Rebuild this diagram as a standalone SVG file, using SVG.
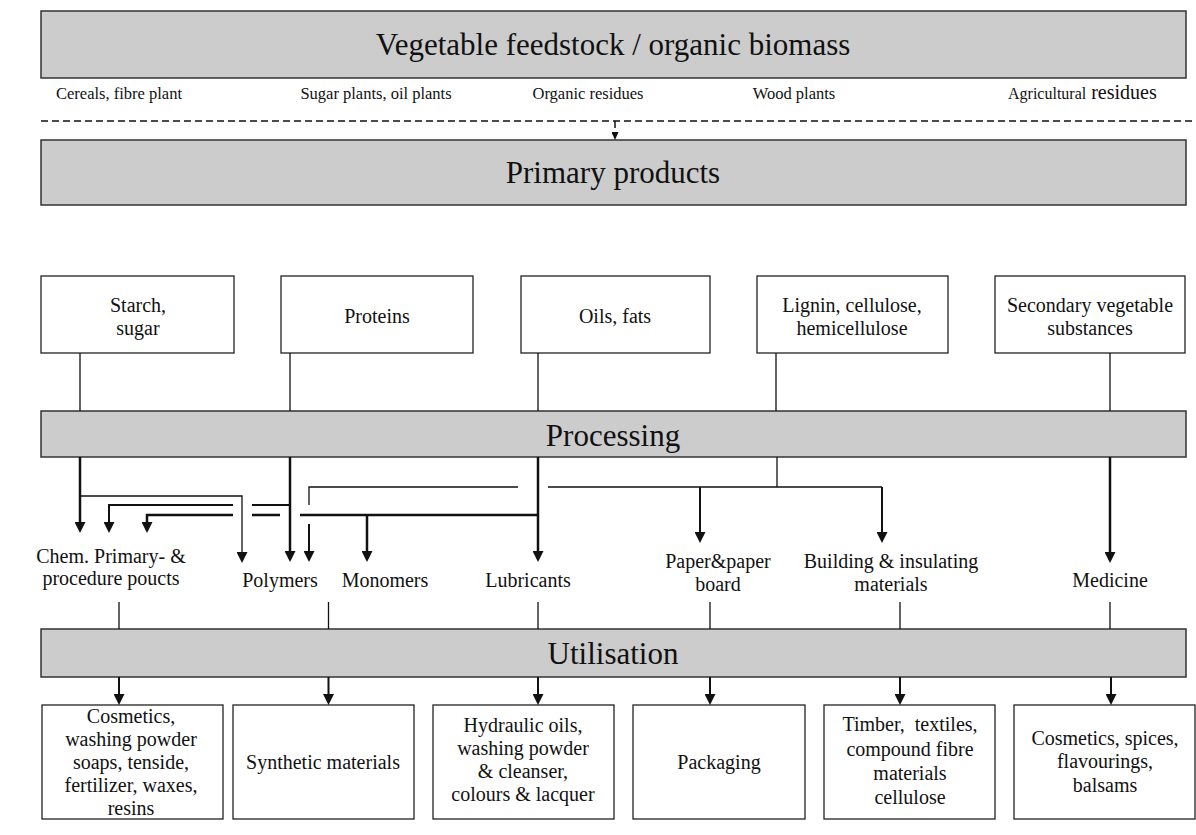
<svg xmlns="http://www.w3.org/2000/svg" width="1196" height="835" viewBox="0 0 1196 835">
  <defs>
    <style>
      .band { fill: #cccccc; stroke: #333333; stroke-width: 1.5; }
      .box { fill: #ffffff; stroke: #222222; stroke-width: 1.3; }
      text { font-family: "Liberation Serif", "Times New Roman", serif; fill: #111111; }
      .t-band { font-size: 31px; text-anchor: middle; }
      .t-box { font-size: 20px; text-anchor: middle; }
      .t-sub { font-size: 16.5px; text-anchor: middle; }
      .pre { white-space: pre; }
      .thin { fill: none; stroke: #111111; stroke-width: 1.3; }
      .mid { fill: none; stroke: #111111; stroke-width: 2; }
      .thick { fill: none; stroke: #111111; stroke-width: 2.5; }
      .dash { fill: none; stroke: #111111; stroke-width: 1.5; stroke-dasharray: 7 4; }
    </style>
    <marker id="arrow" markerUnits="userSpaceOnUse" viewBox="0 0 11 11" markerWidth="11" markerHeight="11" refX="8" refY="5.5" orient="auto">
      <path d="M0,0 L11,5.5 L0,11 z" fill="#111111"/>
    </marker>
    <marker id="arrowSmall" markerUnits="userSpaceOnUse" viewBox="0 0 8 7" markerWidth="8" markerHeight="7" refX="6" refY="3.5" orient="auto">
      <path d="M0,0 L8,3.5 L0,7 z" fill="#111111"/>
    </marker>
  </defs>

  <!-- feedstock band and source labels -->
  <g id="feedstock">
    <rect class="band" x="41" y="11" width="1145" height="67"/>
    <text class="t-band" x="613" y="55">Vegetable feedstock / organic biomass</text>
  </g>
  <g id="sources">
    <text class="t-sub" x="119" y="99">Cereals, fibre plant</text>
    <text class="t-sub" x="376" y="99">Sugar plants, oil plants</text>
    <text class="t-sub" x="588" y="99">Organic residues</text>
    <text class="t-sub" x="794" y="99">Wood plants</text>
    <text x="1008" y="99"><tspan font-size="16px">Agricultural</tspan><tspan font-size="20px"> residues</tspan></text>
  </g>

  <g id="primary-products">
    <rect class="band" x="41" y="140" width="1145" height="65"/>
    <text class="t-band" x="613" y="183">Primary products</text>
  </g>

  <!-- primary product groups -->
  <g id="starch">
    <rect class="box" x="41" y="276" width="193" height="77"/>
    <text class="t-box" x="138" y="312">Starch,</text>
    <text class="t-box" x="138" y="335">sugar</text>
  </g>
  <g id="proteins">
    <rect class="box" x="281" y="276" width="192" height="77"/>
    <text class="t-box" x="377" y="323">Proteins</text>
  </g>
  <g id="oils">
    <rect class="box" x="521" y="276" width="189" height="77"/>
    <text class="t-box" x="615" y="323">Oils, fats</text>
  </g>
  <g id="lignin">
    <rect class="box" x="757" y="276" width="191" height="77"/>
    <text class="t-box" x="852" y="312">Lignin, cellulose,</text>
    <text class="t-box" x="852" y="335">hemicellulose</text>
  </g>
  <g id="secondary">
    <rect class="box" x="995" y="276" width="190" height="77"/>
    <text class="t-box" x="1090" y="312">Secondary vegetable</text>
    <text class="t-box" x="1090" y="335">substances</text>
  </g>

  <g id="processing">
    <rect class="band" x="41" y="411" width="1145" height="46"/>
    <text class="t-band" x="613" y="446">Processing</text>
  </g>

  <!-- intermediate products -->
  <g id="chem">
    <text class="t-box" x="111" y="563">Chem. Primary- &amp;</text>
    <text class="t-box" x="111" y="585">procedure poucts</text>
  </g>
  <g id="polymers">
    <text class="t-box" x="280" y="587">Polymers</text>
  </g>
  <g id="monomers">
    <text class="t-box" x="385" y="587">Monomers</text>
  </g>
  <g id="lubricants">
    <text class="t-box" x="528" y="587">Lubricants</text>
  </g>
  <g id="paper">
    <text class="t-box" x="718" y="568">Paper&amp;paper</text>
    <text class="t-box" x="718" y="591">board</text>
  </g>
  <g id="building">
    <text class="t-box" x="891" y="568">Building &amp; insulating</text>
    <text class="t-box" x="891" y="591">materials</text>
  </g>
  <g id="medicine">
    <text class="t-box" x="1110" y="587">Medicine</text>
  </g>

  <g id="utilisation">
    <rect class="band" x="41" y="629" width="1145" height="48"/>
    <text class="t-band" x="613" y="664">Utilisation</text>
  </g>

  <!-- end uses -->
  <g id="use-cosmetics">
    <rect class="box" x="42" y="705" width="181" height="114"/>
    <text class="t-box" x="131" y="723">Cosmetics,</text>
    <text class="t-box" x="131" y="746">washing powder</text>
    <text class="t-box" x="131" y="769">soaps, tenside,</text>
    <text class="t-box" x="131" y="792">fertilizer, waxes,</text>
    <text class="t-box" x="131" y="815">resins</text>
  </g>
  <g id="use-synthetics">
    <rect class="box" x="233" y="705" width="181" height="114"/>
    <text class="t-box" x="323" y="769">Synthetic materials</text>
  </g>
  <g id="use-hydraulic">
    <rect class="box" x="433" y="705" width="181" height="114"/>
    <text class="t-box" x="523" y="732">Hydraulic oils,</text>
    <text class="t-box" x="523" y="755">washing powder</text>
    <text class="t-box" x="523" y="778">&amp; cleanser,</text>
    <text class="t-box" x="523" y="801">colours &amp; lacquer</text>
  </g>
  <g id="use-packaging">
    <rect class="box" x="633" y="705" width="172" height="114"/>
    <text class="t-box" x="719" y="769">Packaging</text>
  </g>
  <g id="use-timber">
    <rect class="box" x="824" y="705" width="171" height="114"/>
    <text class="t-box pre" x="910" y="731">Timber,  textiles,</text>
    <text class="t-box" x="910" y="756">compound fibre</text>
    <text class="t-box" x="910" y="780">materials</text>
    <text class="t-box" x="910" y="804">cellulose</text>
  </g>
  <g id="use-spices">
    <rect class="box" x="1014" y="705" width="181" height="114"/>
    <text class="t-box" x="1105" y="745">Cosmetics, spices,</text>
    <text class="t-box" x="1105" y="768">flavourings,</text>
    <text class="t-box" x="1105" y="792">balsams</text>
  </g>

  <g id="connectors">
    <!-- feedstock to primary products -->
    <path class="dash" d="M41,121 H1196"/>
    <path class="dash" d="M615,121 V138" stroke-dasharray="4 3" marker-end="url(#arrowSmall)"/>

    <!-- primary groups into processing -->
    <path class="thin" d="M80,353 V411 M290,353 V411 M538,353 V411 M776,353 V411 M1110,353 V411"/>

    <!-- processing outputs -->
    <path class="thick" d="M80,457 V530" marker-end="url(#arrow)"/>
    <path class="thin" d="M80,496 H242 V560" marker-end="url(#arrow)"/>
    <path class="mid" d="M290,505 H252"/>
    <path class="mid" d="M233,505 H109 V530" marker-end="url(#arrow)"/>
    <path class="thick" d="M538,515 H300 M280,515 H252"/>
    <path class="thick" d="M233,515 H147 V530" marker-end="url(#arrow)"/>
    <path class="thick" d="M367,515 V559" marker-end="url(#arrow)"/>
    <path class="thick" d="M290,457 V559" marker-end="url(#arrow)"/>
    <path class="thick" d="M538,457 V559" marker-end="url(#arrow)"/>
    <path class="thin" d="M777,457 V487 M548,487 H882 M518,487 H309 V505"/>
    <path class="mid" d="M309,524 V559" marker-end="url(#arrow)"/>
    <path class="mid" d="M700,487 V540" marker-end="url(#arrow)"/>
    <path class="mid" d="M882,487 V540" marker-end="url(#arrow)"/>
    <path class="thick" d="M1110,457 V560" marker-end="url(#arrow)"/>

    <!-- intermediate products into utilisation -->
    <path class="thin" d="M119,602 V629 M328.5,602 V629 M538,602 V629 M710,602 V629 M900,602 V629 M1110,602 V629"/>

    <!-- utilisation to end uses -->
    <path class="mid" d="M119,677 V702" marker-end="url(#arrow)"/>
    <path class="mid" d="M328.5,677 V702" marker-end="url(#arrow)"/>
    <path class="mid" d="M538,677 V702" marker-end="url(#arrow)"/>
    <path class="mid" d="M710,677 V702" marker-end="url(#arrow)"/>
    <path class="mid" d="M900,677 V702" marker-end="url(#arrow)"/>
    <path class="mid" d="M1111,677 V702" marker-end="url(#arrow)"/>
  </g>
</svg>
